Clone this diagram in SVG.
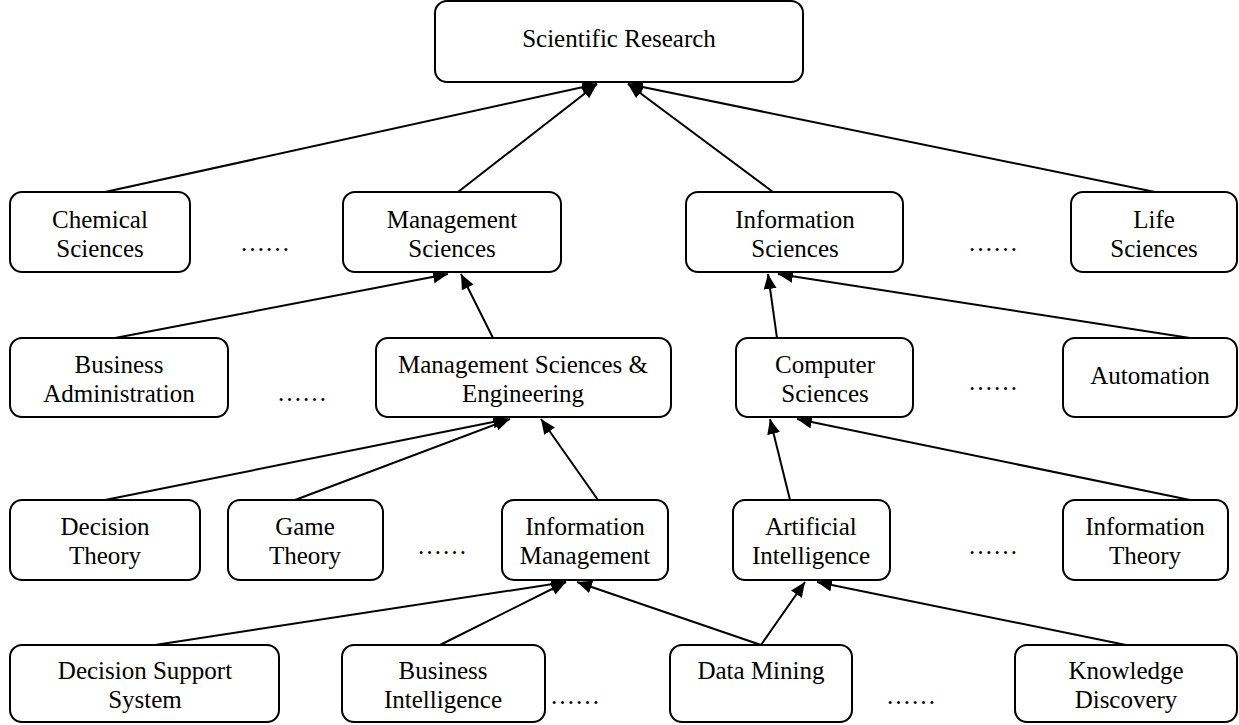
<svg xmlns="http://www.w3.org/2000/svg" width="1239" height="725" viewBox="0 0 1239 725">
<style>
.box{fill:#fff;stroke:#000;stroke-width:2}
.t{font-family:"Liberation Serif","Times New Roman",serif;font-size:25px;fill:#000;text-anchor:middle}
.c{stroke:#000;stroke-width:2;fill:none;marker-end:url(#ah)}
</style>
<defs>
<marker id="ah" markerUnits="userSpaceOnUse" markerWidth="16" markerHeight="14" refX="15" refY="6.5" orient="auto">
<path d="M0,0 L15,6.5 L0,13 z" fill="#000"/>
</marker>
</defs>
<rect width="1239" height="725" fill="#fff"/>
<g id="connectors">
<line class="c" x1="105" y1="192" x2="597" y2="84"/>
<line class="c" x1="458" y1="192" x2="597" y2="84"/>
<line class="c" x1="773" y1="192" x2="628" y2="84"/>
<line class="c" x1="1155" y1="192" x2="628" y2="84"/>
<line class="c" x1="115" y1="338" x2="448" y2="274"/>
<line class="c" x1="493" y1="338" x2="461" y2="274"/>
<line class="c" x1="777" y1="338" x2="768" y2="274"/>
<line class="c" x1="1190" y1="338" x2="778" y2="274"/>
<line class="c" x1="105" y1="500" x2="508" y2="419"/>
<line class="c" x1="295" y1="500" x2="510" y2="419"/>
<line class="c" x1="598" y1="500" x2="541" y2="419"/>
<line class="c" x1="790" y1="500" x2="770" y2="419"/>
<line class="c" x1="1190" y1="500" x2="797" y2="419"/>
<line class="c" x1="155" y1="645" x2="566" y2="582"/>
<line class="c" x1="440" y1="645" x2="566" y2="582"/>
<line class="c" x1="761" y1="645" x2="577" y2="582"/>
<line class="c" x1="761" y1="645" x2="805" y2="582"/>
<line class="c" x1="1126" y1="645" x2="817" y2="582"/>
</g>
<g id="scientific-research"><rect class="box" x="435" y="1" width="368" height="81" rx="12"/><text class="t" x="619" y="47">Scientific Research</text></g>
<g id="chemical-sciences"><rect class="box" x="10" y="192" width="180" height="80" rx="12"/><text class="t" x="100" y="228">Chemical</text><text class="t" x="100" y="257">Sciences</text></g>
<g id="dots1"><text class="t" x="265" y="251">……</text></g>
<g id="management-sciences"><rect class="box" x="343" y="192" width="218" height="80" rx="12"/><text class="t" x="452" y="228">Management</text><text class="t" x="452" y="257">Sciences</text></g>
<g id="information-sciences"><rect class="box" x="686" y="192" width="217" height="80" rx="12"/><text class="t" x="795" y="228">Information</text><text class="t" x="795" y="257">Sciences</text></g>
<g id="dots2"><text class="t" x="993" y="251">……</text></g>
<g id="life-sciences"><rect class="box" x="1071" y="192" width="166" height="80" rx="12"/><text class="t" x="1154" y="228">Life</text><text class="t" x="1154" y="257">Sciences</text></g>
<g id="business-administration"><rect class="box" x="10" y="338" width="218" height="79" rx="12"/><text class="t" x="119" y="373">Business</text><text class="t" x="119" y="402">Administration</text></g>
<g id="dots3"><text class="t" x="302" y="401">……</text></g>
<g id="management-sciences-engineering"><rect class="box" x="376" y="338" width="295" height="79" rx="12"/><text class="t" x="523" y="373">Management Sciences &amp;</text><text class="t" x="523" y="402">Engineering</text></g>
<g id="computer-sciences"><rect class="box" x="736" y="338" width="177" height="79" rx="12"/><text class="t" x="825" y="373">Computer</text><text class="t" x="825" y="402">Sciences</text></g>
<g id="dots4"><text class="t" x="993" y="390">……</text></g>
<g id="automation"><rect class="box" x="1063" y="338" width="174" height="79" rx="12"/><text class="t" x="1150" y="384">Automation</text></g>
<g id="decision-theory"><rect class="box" x="10" y="500" width="190" height="80" rx="12"/><text class="t" x="105" y="535">Decision</text><text class="t" x="105" y="564">Theory</text></g>
<g id="game-theory"><rect class="box" x="228" y="500" width="155" height="80" rx="12"/><text class="t" x="305" y="535">Game</text><text class="t" x="305" y="564">Theory</text></g>
<g id="dots5"><text class="t" x="442" y="554">……</text></g>
<g id="information-management"><rect class="box" x="502" y="500" width="166" height="80" rx="12"/><text class="t" x="585" y="535">Information</text><text class="t" x="585" y="564">Management</text></g>
<g id="artificial-intelligence"><rect class="box" x="733" y="500" width="157" height="80" rx="12"/><text class="t" x="811" y="535">Artificial</text><text class="t" x="811" y="564">Intelligence</text></g>
<g id="dots6"><text class="t" x="993" y="554">……</text></g>
<g id="information-theory"><rect class="box" x="1063" y="500" width="165" height="80" rx="12"/><text class="t" x="1145" y="535">Information</text><text class="t" x="1145" y="564">Theory</text></g>
<g id="decision-support-system"><rect class="box" x="10" y="645" width="269" height="77" rx="12"/><text class="t" x="145" y="679">Decision Support</text><text class="t" x="145" y="708">System</text></g>
<g id="business-intelligence"><rect class="box" x="342" y="645" width="203" height="77" rx="12"/><text class="t" x="443" y="679">Business</text><text class="t" x="443" y="708">Intelligence</text></g>
<g id="dots7"><text class="t" x="575" y="704">……</text></g>
<g id="data-mining"><rect class="box" x="670" y="645" width="182" height="77" rx="12"/><text class="t" x="761" y="679">Data Mining</text></g>
<g id="dots8"><text class="t" x="911" y="704">……</text></g>
<g id="knowledge-discovery"><rect class="box" x="1015" y="645" width="222" height="77" rx="12"/><text class="t" x="1126" y="679">Knowledge</text><text class="t" x="1126" y="708">Discovery</text></g>
</svg>
